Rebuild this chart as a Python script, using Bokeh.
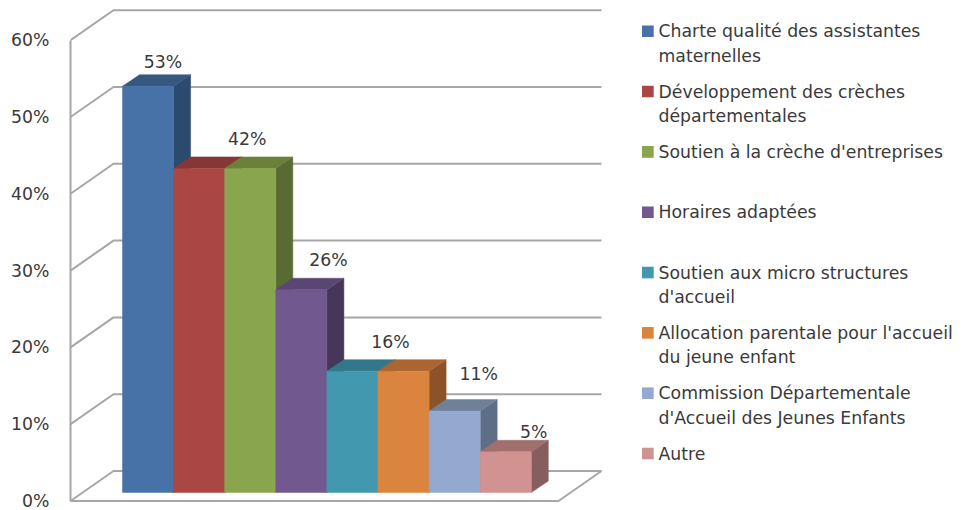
from bokeh.plotting import figure
from bokeh.models import Range1d, FixedTicker, PrintfTickFormatter
from bokeh.core.properties import value
from bokeh.embed import file_html
from bokeh.resources import INLINE

# ---- data
categories = [
    "Charte qualité des assistantes\nmaternelles",
    "Développement des crèches\ndépartementales",
    "Soutien à la crèche d'entreprises",
    "Horaires adaptées",
    "Soutien aux micro structures\nd'accueil",
    "Allocation parentale pour l'accueil\ndu jeune enfant",
    "Commission Départementale\nd'Accueil des Jeunes Enfants",
    "Autre",
]
values = [52.9, 42.2, 42.2, 26.4, 15.8, 15.8, 10.6, 5.3]
shown_labels = [True, False, True, True, False, True, True, True]
y_ticks = [0, 10, 20, 30, 40, 50, 60]

# ---- styles
front_colors = ["#4672A8", "#AA4643", "#89A54E", "#71588F", "#4198AF", "#DB843D", "#93A9CF", "#D19392"]
top_colors = ["#36587F", "#843734", "#6B8039", "#5A4672", "#33788A", "#AA6530", "#6F8099", "#A06F6E"]
side_colors = ["#2C4A6E", "#6E2E2C", "#5A6A33", "#46375A", "#2A6373", "#8B5327", "#5E6E87", "#875E5E"]
GRID = "#A6A6A6"
TEXT = "#3A3A3A"
FONT = "DejaVu Sans"
FONT_SIZE = "17.3px"

# ---- layout (pixels in the page)
LEFT, RIGHT, TOP, BOTTOM = 70, 963, 0, 510
BAR_PX = 51.1
BAR_X0 = 122
Y0_PX = 500.5
PX_PER_PCT = 7.68


def ux(px):
    return (px - BAR_X0) / BAR_PX


def uy(py):
    return (Y0_PX - py) / PX_PER_PCT


WALL_DX = 43 / BAR_PX       # depth of the floor
WALL_DY = 30 / PX_PER_PCT
WALL_W = 488 / BAR_PX
BAR_DX = 17 / BAR_PX        # depth of a bar
BAR_DY = 11.5 / PX_PER_PCT
BAR_BASE = 8.5 / PX_PER_PCT  # bars stand inside the floor: lifted above the front edge

p = figure(width=RIGHT, height=BOTTOM - TOP, output_backend="svg", toolbar_location=None,
           x_range=Range1d(ux(LEFT), ux(RIGHT)), y_range=Range1d(uy(BOTTOM), uy(TOP)),
           min_border_left=LEFT, min_border_right=0, min_border_top=0, min_border_bottom=0,
           outline_line_color=None, background_fill_color=None, border_fill_color="white",
           x_axis_type=None)
p.grid.visible = False

ax = p.yaxis[0]
ax.ticker = FixedTicker(ticks=y_ticks)
ax.formatter = PrintfTickFormatter(format="%d%%")
ax.bounds = (0, 60)
ax.major_tick_line_color = None
ax.minor_tick_line_color = None
ax.axis_line_color = GRID
ax.axis_line_width = 2
ax.major_label_standoff = 20
ax.major_label_text_font = FONT
ax.major_label_text_font_size = FONT_SIZE
ax.major_label_text_color = TEXT
ax.major_label_standoff = 15

# walls and floor
x_front = ux(LEFT)
wx, wy = [], []
for t in y_ticks:
    wx.append([x_front, x_front + WALL_DX, x_front + WALL_DX + WALL_W])
    wy.append([t, t + WALL_DY, t + WALL_DY])
p.multi_line(wx, wy, line_color=GRID, line_width=2)
p.line([x_front, x_front + WALL_W, x_front + WALL_W + WALL_DX],
       [0, 0, WALL_DY], line_color=GRID, line_width=2)

# bars, left to right so that each front hides the side of the one before
for i, v in enumerate(values):
    x0, x1 = float(i), float(i + 1)
    b, t = BAR_BASE, BAR_BASE + v
    p.patch([x1, x1 + BAR_DX, x1 + BAR_DX, x1], [b, b + BAR_DY, t + BAR_DY, t],
            fill_color=side_colors[i], line_color=side_colors[i], line_width=0.5)
    p.patch([x0, x1, x1 + BAR_DX, x0 + BAR_DX], [t, t, t + BAR_DY, t + BAR_DY],
            fill_color=top_colors[i], line_color=top_colors[i], line_width=0.5)
    p.patch([x0, x1, x1, x0], [b, b, t, t],
            fill_color=front_colors[i], line_color=front_colors[i], line_width=0.5)

# value labels
label_dx = [15, 0, -3, 27, 0, -13, 24, 28]
label_dy = [12.5, 0, 18, 18, 0, 18, 26, 8]
for i, v in enumerate(values):
    if shown_labels[i]:
        p.text([i + 0.5 + label_dx[i] / BAR_PX],
               [BAR_BASE + v + BAR_DY + label_dy[i] / PX_PER_PCT],
               text=[f"{round(v)}%"], text_align="center", text_baseline="middle",
               text_font=value(FONT), text_font_size=FONT_SIZE, text_color=TEXT)

# legend
ROW0, ROW_STEP, LINE_STEP = 30.7, 60.33, 24.4
for i, cat in enumerate(categories):
    py = ROW0 + ROW_STEP * i
    p.quad(left=[ux(641.5)], right=[ux(653.2)], bottom=[uy(py + 5.8)], top=[uy(py - 5.8)],
           fill_color=front_colors[i], line_color=None)
    for j, line in enumerate(cat.split("\n")):
        p.text([ux(658)], [uy(py + j * LINE_STEP)], text=[line], text_align="left",
               text_baseline="middle", text_font=value(FONT), text_font_size=FONT_SIZE,
               text_color=TEXT)

open("out.html", "w").write(file_html(p, INLINE))
